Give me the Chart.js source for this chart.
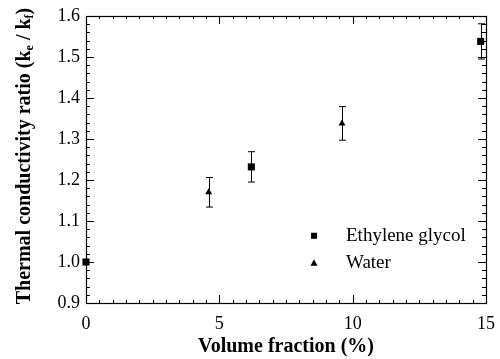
<!DOCTYPE html>
<html>
<head>
<meta charset="utf-8">
<script src="https://cdn.jsdelivr.net/npm/chart.js@4/dist/chart.umd.min.js"></script>
<style>
  html, body { margin: 0; padding: 0; background: #fff; }
  #wrap { width: 500px; height: 359px; }
</style>
</head>
<body>
<div id="wrap"><canvas id="mychart"></canvas></div>
<script>
// data
var glycolX = [0, 6.2, 14.8];
var glycolY = [1.0, 1.232, 1.538];
var glycolErr = [0, 0.037, 0.043];
var waterX = [4.6, 9.6];
var waterY = [1.17, 1.338];
var waterErr = [0.036, 0.041];
var seriesNames = ["Ethylene glycol", "Water"];
var xTicks = [0, 5, 10, 15];
var yTicks = [0.9, 1.0, 1.1, 1.2, 1.3, 1.4, 1.5, 1.6];

var hitam = '#000';
var serif = "'Liberation Serif', 'DejaVu Serif', serif";

function toPoints(xs, ys) {
  return xs.map(function (x, i) { return { x: x, y: ys[i] }; });
}

// frame, inward ticks, error bars, legend and y title
var decor = {
  id: 'decor',
  afterDatasetsDraw: function (chart) {
    var ctx = chart.ctx;
    var a = chart.chartArea;
    var sx = chart.scales.x, sy = chart.scales.y;
    ctx.save();
    ctx.strokeStyle = hitam;
    ctx.lineWidth = 1;

    // error bars
    var sets = [[glycolX, glycolY, glycolErr], [waterX, waterY, waterErr]];
    sets.forEach(function (s) {
      s[0].forEach(function (x, i) {
        if (!s[2][i]) return;
        var px = Math.round(sx.getPixelForValue(x)) + 0.5;
        var top = sy.getPixelForValue(s[1][i] + s[2][i]);
        var bot = sy.getPixelForValue(s[1][i] - s[2][i]);
        ctx.beginPath();
        ctx.moveTo(px, top); ctx.lineTo(px, bot);
        ctx.moveTo(px - 3.5, top); ctx.lineTo(px + 3.5, top);
        ctx.moveTo(px - 3.5, bot); ctx.lineTo(px + 3.5, bot);
        ctx.stroke();
      });
    });

    // frame
    ctx.lineWidth = 1.2;
    ctx.strokeRect(a.left + 0.5, a.top + 0.5, a.right - a.left, a.bottom - a.top);

    // ticks pointing in, on all four sides
    ctx.lineWidth = 1;
    ctx.beginPath();
    for (var v = 0; v <= 15.001; v += 0.5) {
      var px = Math.round(sx.getPixelForValue(v)) + 0.5;
      var len = (Math.abs(v % 5) < 0.01) ? 8 : 3;
      ctx.moveTo(px, a.bottom); ctx.lineTo(px, a.bottom - len);
      ctx.moveTo(px, a.top); ctx.lineTo(px, a.top + len);
    }
    for (var k = 0; k <= 35; k++) {
      var val = 0.9 + k * 0.02;
      var py = Math.round(sy.getPixelForValue(val)) + 0.5;
      var l2 = (k % 5 === 0) ? 8 : 4;
      ctx.moveTo(a.left, py); ctx.lineTo(a.left + l2, py);
      ctx.moveTo(a.right, py); ctx.lineTo(a.right - l2, py);
    }
    ctx.stroke();

    // legend inside the plot
    ctx.fillStyle = hitam;
    var lx = sx.getPixelForValue(8.55), ly1 = sy.getPixelForValue(1.064), ly2 = sy.getPixelForValue(0.998);
    ctx.fillRect(lx - 3, ly1 - 3, 6, 6);
    ctx.beginPath();
    ctx.moveTo(lx, ly2 - 3.5); ctx.lineTo(lx + 3.5, ly2 + 3); ctx.lineTo(lx - 3.5, ly2 + 3);
    ctx.closePath(); ctx.fill();
    ctx.font = '19px ' + serif;
    ctx.textBaseline = 'middle';
    ctx.textAlign = 'left';
    ctx.fillText(seriesNames[0], lx + 32, ly1);
    ctx.fillText(seriesNames[1], lx + 32, ly2);

    // y axis title with subscripts
    ctx.translate(25, 156);
    ctx.rotate(-Math.PI / 2);
    var big = 'bold 20px ' + serif, small = 'bold 12px ' + serif;
    var parts = [['Thermal conductivity ratio (k', big, 0], ['e', small, 5], [' / k', big, 0], ['f', small, 5], [')', big, 0]];
    var w = 0;
    parts.forEach(function (p) { ctx.font = p[1]; w += ctx.measureText(p[0]).width; });
    var cx = -w / 2;
    ctx.textAlign = 'left';
    ctx.textBaseline = 'middle';
    parts.forEach(function (p) {
      ctx.font = p[1];
      ctx.fillText(p[0], cx, p[2]);
      cx += ctx.measureText(p[0]).width;
    });
    ctx.restore();
  }
};

var ctx = document.getElementById("mychart").getContext('2d');
var myChart = new Chart(ctx, {
  type: 'scatter',
  data: {
    datasets: [{
      label: seriesNames[0],
      data: toPoints(glycolX, glycolY),
      pointStyle: 'rect',
      pointRadius: 5,
      backgroundColor: hitam,
      borderColor: hitam,
      borderWidth: 0,
      clip: false
    }, {
      label: seriesNames[1],
      data: toPoints(waterX, waterY),
      pointStyle: 'triangle',
      pointRadius: 4,
      backgroundColor: hitam,
      borderColor: hitam,
      borderWidth: 0,
      clip: false
    }]
  },
  options: {
    responsive: true,
    maintainAspectRatio: false,
    animation: false,
    layout: { padding: { top: 16, right: 14, left: 0, bottom: 0 } },
    plugins: {
      legend: { display: false },
      tooltip: { enabled: false }
    },
    scales: {
      x: {
        type: 'linear',
        min: 0, max: 15,
        afterFit: function (s) { s.height = 56; s.paddingRight = 0; s.paddingLeft = 0; },
        afterBuildTicks: function (s) { s.ticks = xTicks.map(function (v) { return { value: v }; }); },
        grid: { display: false, drawTicks: false },
        border: { display: false },
        ticks: { color: hitam, padding: 10, font: { family: serif, size: 18 } },
        title: { display: true, text: 'Volume fraction (%)', color: hitam, padding: { top: 0, bottom: 0 }, font: { family: serif, size: 20, weight: 'bold' } }
      },
      y: {
        min: 0.9, max: 1.6,
        afterFit: function (s) { s.width = 86; s.paddingTop = 0; s.paddingBottom = 0; },
        afterBuildTicks: function (s) { s.ticks = yTicks.map(function (v) { return { value: v }; }); },
        grid: { display: false, drawTicks: false },
        border: { display: false },
        ticks: {
          color: hitam, padding: 6, font: { family: serif, size: 18 },
          callback: function (v) { return Number(v).toFixed(1); }
        }
      }
    }
  },
  plugins: [decor]
});
</script>
</body>
</html>
